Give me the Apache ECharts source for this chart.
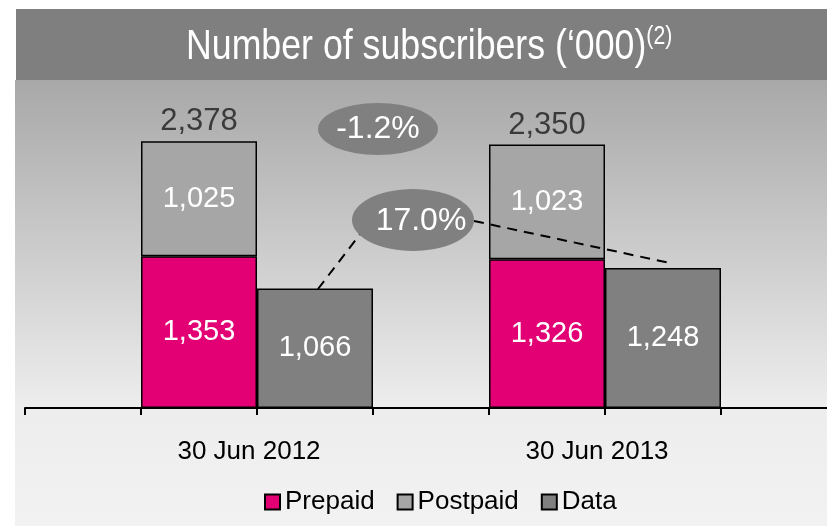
<!DOCTYPE html>
<html>
<head>
<meta charset="utf-8">
<title>Number of subscribers</title>
<script src="https://cdn.jsdelivr.net/npm/echarts@6/dist/echarts.min.js"></script>
<style>
  html, body { margin: 0; padding: 0; background: #fff; }
  #chart { width: 827px; height: 526px; }
</style>
</head>
<body>
<div id="chart"></div>
<script>
const categories = ['30 Jun 2012', '30 Jun 2013'];
const prepaid = [1353, 1326];
const postpaid = [1025, 1023];
const dataSubs = [1066, 1248];
const totals = [2378, 2350];
const totalChange = '-1.2%';
const dataChange = '17.0%';

const SANS = "'Liberation Sans', Arial, sans-serif";

const fmt = v => v.toLocaleString('en-US');

const chart = echarts.init(document.getElementById('chart'));

const barLabel = {
  show: true,
  position: 'inside',
  color: '#fff',
  fontFamily: SANS,
  fontSize: 29,
  formatter: p => fmt(p.value)
};
const border = { borderColor: '#000', borderWidth: 1.5 };

// baseline axis: one tick per bar edge (bar width 116px), running from x=25 to the right edge
const BAR_W = 116;
const axisSlots = 802 / BAR_W;

const option = {
  animation: false,
  legend: {
    left: 259,
    top: 484,
    icon: 'rect',
    itemWidth: 15,
    itemHeight: 15,
    itemGap: 22,
    data: ['Prepaid', 'Postpaid', 'Data'],
    textStyle: { fontFamily: SANS, fontSize: 26, color: '#000' }
  },
  grid: [
    { left: 83, right: 48, top: 94, bottom: 118 },
    { left: 25, right: 0, top: 94, bottom: 118 }
  ],
  xAxis: [
    {
      type: 'category',
      gridIndex: 0,
      data: categories,
      axisLine: { show: false },
      axisTick: { show: false },
      axisLabel: {
        margin: 31,
        padding: [0, 16, 0, 0],
        fontFamily: SANS,
        fontSize: 26,
        color: '#000'
      }
    },
    {
      type: 'value',
      gridIndex: 1,
      min: 0,
      max: axisSlots,
      axisLine: { show: true, lineStyle: { color: '#000', width: 2 } },
      axisTick: {
        show: true,
        length: 7,
        customValues: [0, 1, 2, 3, 4, 5, 6],
        lineStyle: { color: '#000', width: 2 }
      },
      axisLabel: { show: false },
      splitLine: { show: false }
    }
  ],
  yAxis: [
    { type: 'value', gridIndex: 0, min: 0, max: 2800, show: false, splitLine: { show: false } },
    { type: 'value', gridIndex: 1, min: 0, max: 1, show: false, splitLine: { show: false } }
  ],
  series: [
    {
      name: 'Prepaid',
      type: 'bar',
      stack: 'mobile',
      barWidth: BAR_W,
      barGap: '0%',
      data: prepaid,
      itemStyle: Object.assign({ color: '#E20074' }, border),
      label: barLabel
    },
    {
      name: 'Postpaid',
      type: 'bar',
      stack: 'mobile',
      barWidth: BAR_W,
      data: postpaid,
      itemStyle: Object.assign({ color: '#A6A6A6' }, border),
      label: barLabel
    },
    {
      name: 'Data',
      type: 'bar',
      barWidth: BAR_W,
      barGap: '0%',
      data: dataSubs,
      itemStyle: Object.assign({ color: '#808080' }, border),
      label: barLabel
    },
    {
      name: 'Total',
      type: 'bar',
      stack: 'mobile',
      barWidth: BAR_W,
      data: totals.map(() => 0),
      itemStyle: { color: 'transparent', borderWidth: 0 },
      label: {
        show: true,
        position: 'top',
        distance: 4,
        color: '#3a3a3a',
        fontFamily: SANS,
        fontSize: 31,
        formatter: p => fmt(totals[p.dataIndex])
      }
    }
  ],
  graphic: [
    {
      type: 'rect', z: -10, silent: true,
      shape: { x: 15, y: 80, width: 812, height: 446 },
      style: {
        fill: new echarts.graphic.LinearGradient(0, 0, 0, 1, [
          { offset: 0, color: '#a8a8a8' },
          { offset: 0.73, color: '#ededed' },
          { offset: 1, color: '#f2f2f2' }
        ])
      }
    },
    {
      type: 'rect', z: -10, silent: true,
      shape: { x: 16, y: 9, width: 811, height: 71 },
      style: { fill: '#7f7f7f' }
    },
    {
      // title, horizontally condensed like the original typeface
      type: 'text', z: 5, silent: true,
      x: 186, y: 25,
      scaleX: 0.85,
      style: {
        text: '{a|Number of subscribers (\u2018000)}{b|(2)}',
        rich: {
          a: { fontFamily: SANS, fontSize: 42, lineHeight: 44, fill: '#fff' },
          b: { fontFamily: SANS, fontSize: 25, lineHeight: 25, fill: '#fff', verticalAlign: 'top' }
        },
        fill: '#fff'
      }
    },
    {
      type: 'line', z: 50, silent: true,
      shape: { x1: 318, y1: 289, x2: 364, y2: 229 },
      style: { stroke: '#000', lineWidth: 2, lineDash: [10, 7] }
    },
    {
      type: 'line', z: 50, silent: true,
      shape: { x1: 474, y1: 221, x2: 670, y2: 263 },
      style: { stroke: '#000', lineWidth: 2, lineDash: [10, 7] }
    },
    {
      type: 'ellipse', z: 60, silent: true,
      shape: { cx: 378, cy: 129, rx: 60, ry: 26 },
      style: { fill: '#808080' }
    },
    {
      type: 'text', z: 61, silent: true,
      x: 378, y: 129,
      style: {
        text: totalChange, fill: '#fff', font: '32px ' + SANS,
        align: 'center', verticalAlign: 'middle'
      }
    },
    {
      type: 'ellipse', z: 60, silent: true,
      shape: { cx: 413, cy: 220, rx: 61, ry: 31 },
      style: { fill: '#808080' }
    },
    {
      type: 'text', z: 61, silent: true,
      x: 421, y: 221,
      style: {
        text: dataChange, fill: '#fff', font: '32px ' + SANS,
        align: 'center', verticalAlign: 'middle'
      }
    }
  ]
};

chart.setOption(option);
</script>
</body>
</html>
